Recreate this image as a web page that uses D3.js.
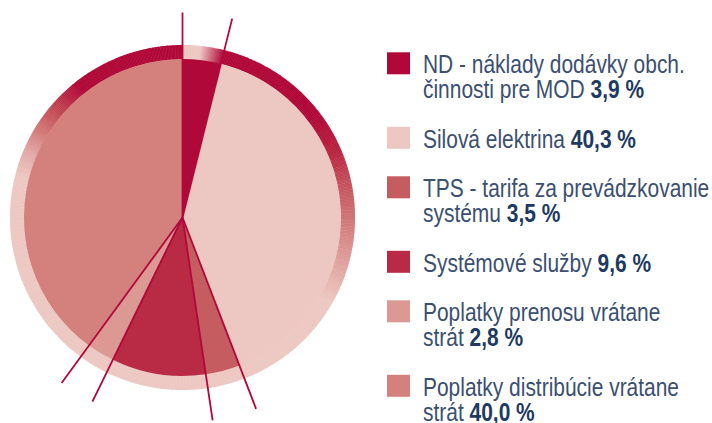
<!DOCTYPE html>
<html>
<head>
<meta charset="utf-8">
<script src="https://cdn.jsdelivr.net/npm/d3@7"></script>
<style>
  html, body { margin: 0; padding: 0; background: #ffffff; }
  svg { display: block; }
</style>
</head>
<body>
<svg id="chart" width="712" height="423"></svg>
<script>
// ---- data ----
const categories = [
  "ND - náklady dodávky obch. činnosti pre MOD",
  "Silová elektrina",
  "TPS - tarifa za prevádzkovanie systému",
  "Systémové služby",
  "Poplatky prenosu vrátane strát",
  "Poplatky distribúcie vrátane strát"
];
const labelLines = [
  ["ND - náklady dodávky obch.", "činnosti pre MOD"],
  ["Silová elektrina"],
  ["TPS - tarifa za prevádzkovanie", "systému"],
  ["Systémové služby"],
  ["Poplatky prenosu vrátane", "strát"],
  ["Poplatky distribúcie vrátane", "strát"]
];
const values = [3.9, 40.3, 3.5, 9.6, 2.8, 40.0];
const sliceColors = ["#b00838", "#edc8c2", "#c55c60", "#b92a45", "#dc9994", "#d4817d"];

// ---- styles / layout ----
const cx = 182.5, cy = 217.5;
const rPie = 158.5, rRing = 172.5, lineLen = 205;
const light = "#edc8c2", dark = "#b00838";
const ringStops = [
  [0, light], [6, light], [14, dark], [52, dark], [66, "#b8223f"], [76, "#c24a58"],
  [90, "#d07676"], [104, "#de9c99"], [120, light], [284, light], [293, "#e2a8a6"],
  [302, "#d07474"], [312, "#c0404f"], [322, dark], [360, dark]
];

const svg = d3.select("#chart");
const g = svg.append("g").attr("transform", `translate(${cx},${cy})`);

const pie = d3.pie().sort(null).value(d => d);
const arcs = pie(values);

// ring (angular gradient via thin segments)
const ringColor = d3.scaleLinear()
  .domain(ringStops.map(s => s[0]))
  .range(ringStops.map(s => s[1]))
  .interpolate(d3.interpolateRgb);
const ringArc = d3.arc().innerRadius(rPie - 0.5).outerRadius(rRing);
const step = 0.5;
const segs = d3.range(0, 360, step);
g.append("g").selectAll("path").data(segs).join("path")
  .attr("d", a => ringArc({ startAngle: a * Math.PI / 180, endAngle: (a + step + 0.15) * Math.PI / 180 }))
  .attr("fill", a => ringColor(a + step / 2));

// slices
const arcGen = d3.arc().innerRadius(0).outerRadius(rPie);
g.append("g").selectAll("path").data(arcs).join("path")
  .attr("d", arcGen)
  .attr("fill", (d, i) => sliceColors[i]);

// boundary lines
g.append("g").selectAll("line").data(arcs).join("line")
  .attr("x1", 0).attr("y1", 0)
  .attr("x2", d => lineLen * Math.sin(d.startAngle))
  .attr("y2", d => -lineLen * Math.cos(d.startAngle))
  .attr("stroke", dark)
  .attr("stroke-width", 1.8);

// legend
const fmt = v => d3.format(".1f")(v).replace(".", ",") + " %";
const legend = svg.append("g");
const textX = 423, targetFirstWidth = 262;
let base = 73.3;
const lineH = 25, gap = 24.5;
const texts = [];
labelLines.forEach((lines, i) => {
  legend.append("rect")
    .attr("x", 387).attr("y", base - 21)
    .attr("width", 23).attr("height", 22)
    .attr("fill", sliceColors[i]);
  lines.forEach((ln, j) => {
    const t = legend.append("text")
      .attr("x", 0).attr("y", 0)
      .attr("font-family", "'Liberation Sans', Arial, sans-serif")
      .attr("font-size", 25)
      .attr("fill", "#3b4f70");
    t.append("tspan").text(ln);
    if (j === lines.length - 1) {
      t.append("tspan").attr("font-weight", "bold").attr("fill", "#1d3a62").text(" " + fmt(values[i]));
    }
    texts.push({ node: t, y: base + j * lineH });
  });
  base += lineH * lines.length + gap;
});
// condense horizontally to match the narrow typeface of the original
const w0 = texts[0].node.node().getComputedTextLength();
const k = w0 > 0 ? targetFirstWidth / w0 : 0.82;
texts.forEach(o => o.node.attr("transform", `translate(${textX},${o.y}) scale(${k},1)`));
</script>
</body>
</html>
